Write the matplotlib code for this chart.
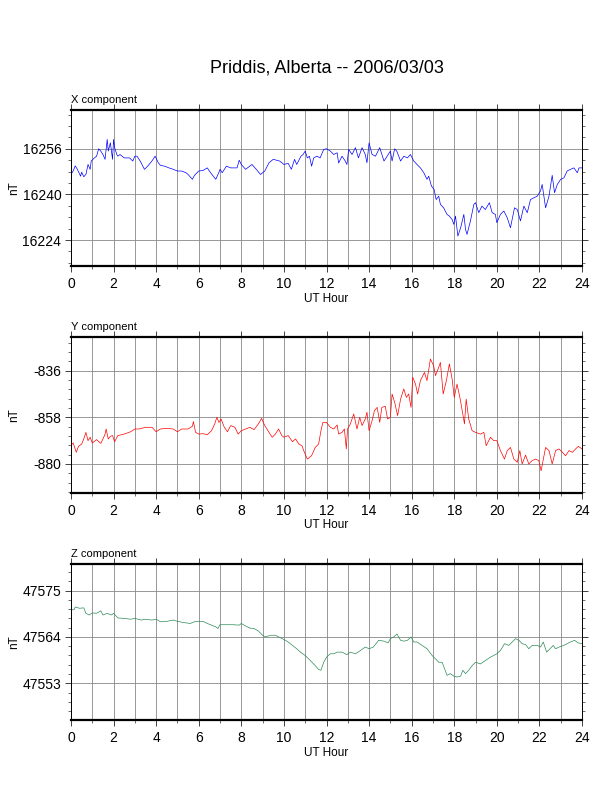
import numpy as np
import matplotlib
matplotlib.use("Agg")
import matplotlib.pyplot as plt
from matplotlib.ticker import MultipleLocator

plt.rcParams['font.family'] = ['Liberation Sans', 'DejaVu Sans']

# X component (nT)
x_hours = [0.0, 0.1, 0.2, 0.3, 0.45, 0.5, 0.6, 0.7, 0.8, 0.9, 0.95, 1.1, 1.2, 1.3, 1.4, 1.5,
           1.6, 1.7, 1.75, 1.85, 1.95, 2.0, 2.05, 2.15, 2.2, 2.3, 2.5, 2.75, 2.9, 3.0, 3.1,
           3.25, 3.45, 3.6, 3.8, 3.95, 4.1, 4.2, 4.4, 4.6, 4.8, 5.0, 5.2, 5.4, 5.5, 5.7, 5.8,
           6.0, 6.2, 6.4, 6.5, 6.65, 6.8, 6.95, 7.0, 7.1, 7.3, 7.5, 7.8, 7.9, 8.0, 8.2, 8.5,
           8.7, 8.9, 9.1, 9.3, 9.5, 9.8, 10.0, 10.2, 10.35, 10.5, 10.6, 10.8, 10.9, 11.0,
           11.1, 11.2, 11.3, 11.4, 11.55, 11.7, 11.87, 12.0, 12.18, 12.34, 12.5, 12.57,
           12.73, 12.88, 12.96, 13.04, 13.2, 13.36, 13.5, 13.67, 13.82, 13.9, 14.0, 14.14,
           14.3, 14.5, 14.7, 14.85, 15.0, 15.08, 15.2, 15.3, 15.48, 15.63, 15.8, 15.94,
           16.1, 16.25, 16.41, 16.57, 16.72, 16.8, 16.93, 17.05, 17.15, 17.27, 17.35, 17.5,
           17.66, 17.77, 17.9, 17.98, 18.06, 18.17, 18.3, 18.45, 18.53, 18.6, 18.76, 18.92,
           19.0, 19.15, 19.3, 19.46, 19.65, 19.78, 19.93, 20.0, 20.17, 20.33, 20.49, 20.64,
           20.83, 20.96, 21.11, 21.27, 21.43, 21.58, 21.74, 21.9, 22.05, 22.13, 22.29,
           22.45, 22.6, 22.71, 22.84, 23.0, 23.15, 23.3, 23.46, 23.62, 23.78, 23.86, 24.0]
x_vals = [16247.0, 16248.2, 16250.0, 16248.8, 16246.4, 16247.8, 16246.2, 16247.0, 16250.5,
          16248.8, 16251.7, 16252.8, 16253.4, 16256.0, 16255.2, 16254.0, 16252.3, 16259.3,
          16255.2, 16258.1, 16252.3, 16259.3, 16256.4, 16254.0, 16253.4, 16254.0, 16252.8,
          16252.8, 16251.7, 16253.4, 16253.4, 16251.7, 16248.8, 16249.9, 16251.7, 16253.4,
          16251.1, 16250.2, 16249.9, 16249.3, 16248.8, 16248.2, 16248.2, 16247.6, 16247.0,
          16245.3, 16246.7, 16248.2, 16248.4, 16249.3, 16248.2, 16246.7, 16245.3, 16247.8,
          16248.8, 16247.6, 16249.9, 16249.3, 16249.3, 16252.0, 16250.5, 16248.8, 16250.5,
          16248.8, 16247.0, 16248.2, 16251.1, 16252.3, 16251.7, 16250.5, 16250.9, 16248.8,
          16252.3, 16250.5, 16253.4, 16254.0, 16255.2, 16252.8, 16253.4, 16249.9, 16252.8,
          16253.4, 16252.8, 16255.8, 16256.0, 16255.2, 16254.0, 16254.6, 16251.0, 16253.4,
          16251.7, 16250.5, 16255.8, 16254.0, 16256.4, 16252.8, 16256.4, 16254.0, 16251.1,
          16258.1, 16254.0, 16253.4, 16256.4, 16251.7, 16253.4, 16255.2, 16251.7, 16256.0,
          16255.2, 16251.7, 16253.4, 16252.8, 16254.0, 16251.7, 16250.5, 16249.3, 16247.6,
          16245.3, 16246.4, 16242.9, 16241.8, 16238.2, 16239.4, 16236.5, 16235.3, 16233.0,
          16232.4, 16231.2, 16229.5, 16232.4, 16225.4, 16228.3, 16233.0, 16227.7, 16226.0,
          16230.7, 16236.5, 16237.1, 16233.6, 16235.9, 16234.7, 16237.1, 16233.6, 16233.0,
          16230.1, 16233.0, 16234.2, 16231.8, 16228.3, 16235.3, 16234.7, 16230.7, 16235.9,
          16233.6, 16238.2, 16238.8, 16239.4, 16241.2, 16243.5, 16235.3, 16239.4, 16246.7,
          16240.6, 16243.5, 16245.3, 16245.8, 16248.2, 16248.8, 16249.3, 16247.6, 16249.3,
          16249.3]

# Y component (nT)
y_hours = [0.0, 0.1, 0.25, 0.35, 0.5, 0.6, 0.7, 0.8, 0.9, 1.0, 1.2, 1.4, 1.5, 1.6, 1.65,
           1.75, 1.85, 1.95, 2.05, 2.2, 2.5, 2.8, 3.0, 3.2, 3.5, 3.8, 4.0, 4.2, 4.5, 4.8,
           5.0, 5.2, 5.5, 5.7, 5.75, 5.85, 6.0, 6.2, 6.4, 6.6, 6.75, 6.85, 6.95, 7.05, 7.2,
           7.35, 7.5, 7.7, 7.85, 8.0, 8.2, 8.4, 8.6, 8.8, 8.95, 9.1, 9.3, 9.45, 9.6, 9.75,
           9.9, 10.0, 10.2, 10.4, 10.55, 10.7, 10.85, 10.93, 11.0, 11.1, 11.3, 11.47, 11.63,
           11.74, 11.83, 12.0, 12.18, 12.34, 12.5, 12.57, 12.73, 12.84, 12.93, 12.99, 13.12,
           13.28, 13.43, 13.56, 13.67, 13.82, 13.9, 14.0, 14.14, 14.25, 14.38, 14.5, 14.6,
           14.76, 14.87, 15.0, 15.08, 15.2, 15.34, 15.48, 15.63, 15.75, 15.86, 15.97, 16.05,
           16.18, 16.28, 16.41, 16.6, 16.72, 16.88, 17.03, 17.12, 17.27, 17.35, 17.48, 17.63,
           17.77, 17.9, 18.0, 18.13, 18.28, 18.4, 18.48, 18.56, 18.68, 18.84, 19.0, 19.23,
           19.39, 19.5, 19.7, 19.86, 20.0, 20.17, 20.36, 20.49, 20.64, 20.8, 20.96, 21.08,
           21.19, 21.35, 21.5, 21.66, 21.82, 21.97, 22.08, 22.29, 22.45, 22.6, 22.76, 22.92,
           23.08, 23.23, 23.39, 23.55, 23.7, 23.83, 24.0]
y_vals = [-871.1, -870.1, -874.5, -871.7, -870.6, -868.2, -865.1, -869.0, -867.4, -870.1,
          -868.5, -870.3, -868.2, -865.9, -863.5, -868.2, -867.0, -866.6, -869.5, -866.6,
          -865.9, -864.8, -863.5, -863.5, -862.7, -862.7, -864.8, -863.5, -863.2, -863.5,
          -864.8, -863.5, -863.5, -862.2, -860.0, -865.1, -865.9, -865.7, -866.2, -864.3,
          -861.1, -858.0, -860.4, -858.8, -862.7, -864.8, -861.9, -862.7, -865.9, -864.3,
          -863.5, -862.7, -863.8, -861.1, -858.5, -861.9, -865.1, -867.4, -865.9, -863.5,
          -866.6, -867.4, -866.6, -869.5, -868.2, -870.6, -871.4, -873.7, -875.3, -877.7,
          -876.1, -872.2, -870.6, -864.3, -860.4, -860.4, -862.7, -863.5, -861.6, -865.9,
          -865.1, -863.5, -872.9, -863.5, -861.1, -856.4, -863.5, -858.0, -861.9, -858.8,
          -855.6, -864.3, -859.6, -854.9, -853.3, -860.4, -853.3, -852.8, -858.8, -858.0,
          -847.0, -850.9, -857.2, -849.4, -844.6, -848.6, -847.0, -853.3, -839.1, -842.3,
          -847.0, -840.7, -836.8, -840.7, -830.5, -833.6, -838.3, -834.4, -832.1, -847.0,
          -840.7, -832.8, -839.9, -848.6, -842.3, -849.4, -856.4, -861.1, -849.4, -858.8,
          -864.3, -865.1, -865.9, -865.1, -871.4, -867.4, -869.0, -869.0, -873.7, -877.7,
          -873.7, -872.2, -877.7, -879.2, -873.7, -880.0, -875.8, -880.0, -878.4, -877.7,
          -878.4, -883.2, -872.2, -873.7, -880.0, -873.7, -872.9, -874.5, -876.1, -873.7,
          -874.5, -872.9, -871.7, -872.9]

# Z component (nT)
z_hours = [0.0, 0.15, 0.2, 0.4, 0.6, 0.7, 0.85, 1.0, 1.2, 1.4, 1.5, 1.7, 1.9, 2.0, 2.2,
           2.5, 2.8, 3.0, 3.3, 3.5, 3.8, 4.0, 4.2, 4.5, 4.8, 5.0, 5.3, 5.6, 5.8, 6.0, 6.2,
           6.4, 6.6, 6.8, 6.9, 7.0, 7.3, 7.6, 7.9, 8.0, 8.2, 8.4, 8.6, 8.8, 9.0, 9.1, 9.4,
           9.6, 9.8, 10.0, 10.2, 10.4, 10.6, 10.8, 11.0, 11.24, 11.47, 11.63, 11.74, 11.87,
           12.0, 12.18, 12.34, 12.5, 12.73, 12.96, 13.12, 13.36, 13.6, 13.82, 14.0, 14.2,
           14.45, 14.7, 14.9, 15.0, 15.16, 15.31, 15.48, 15.63, 15.8, 15.97, 16.1, 16.25,
           16.49, 16.72, 16.96, 17.12, 17.27, 17.43, 17.54, 17.66, 17.82, 17.98, 18.13,
           18.3, 18.4, 18.53, 18.68, 18.84, 19.0, 19.23, 19.46, 19.7, 20.0, 20.17, 20.36,
           20.56, 20.72, 20.88, 21.04, 21.19, 21.35, 21.5, 21.66, 21.9, 22.05, 22.18, 22.34,
           22.5, 22.65, 22.76, 22.92, 23.15, 23.3, 23.46, 23.65, 23.81, 24.0]
z_vals = [47570.4, 47570.5, 47571.1, 47570.8, 47570.9, 47569.6, 47569.2, 47569.7, 47569.6,
          47570.2, 47569.2, 47569.6, 47569.2, 47569.6, 47568.5, 47568.4, 47568.2, 47568.4,
          47568.0, 47568.2, 47568.0, 47568.2, 47567.6, 47567.7, 47568.0, 47567.7, 47567.4,
          47567.2, 47567.6, 47567.7, 47567.7, 47567.2, 47566.8, 47566.4, 47566.0, 47566.9,
          47566.9, 47566.9, 47566.8, 47567.2, 47566.6, 47566.1, 47566.0, 47565.4, 47564.4,
          47564.0, 47564.4, 47564.4, 47563.9, 47563.4, 47562.8, 47562.0, 47561.2, 47560.3,
          47559.6, 47558.4, 47557.2, 47556.3, 47556.1, 47558.0, 47559.2, 47560.0, 47560.0,
          47560.4, 47560.4, 47559.8, 47560.4, 47560.0, 47560.8, 47561.6, 47561.2, 47561.6,
          47563.2, 47563.0, 47562.6, 47563.6, 47564.0, 47564.7, 47563.2, 47563.0, 47563.2,
          47564.0, 47562.8, 47562.8, 47562.0, 47561.2, 47559.6, 47558.8, 47558.0, 47558.0,
          47556.5, 47554.9, 47555.3, 47554.7, 47554.5, 47554.7, 47556.1, 47555.3, 47556.1,
          47557.2, 47558.0, 47557.6, 47558.4, 47559.2, 47560.0, 47560.8, 47562.4, 47562.0,
          47562.8, 47563.6, 47563.2, 47562.4, 47562.2, 47561.2, 47562.0, 47562.0, 47561.6,
          47562.8, 47560.4, 47561.2, 47562.0, 47561.2, 47561.6, 47562.0, 47562.4, 47562.8,
          47563.2, 47562.6, 47562.4]

panels = [
    ("X component", x_hours, x_vals, "#0000ff", [16224, 16240, 16256], 4.0, (16214.9, 16269.6)),
    ("Y component", y_hours, y_vals, "#ff0000", [-880, -858, -836], 4.4, (-893.7, -820.1)),
    ("Z component", z_hours, z_vals, "#2e8b57", [47553, 47564, 47575], 2.2, (47544.3, 47581.3)),
]

W, H = 612, 792
fig = plt.figure(figsize=(W / 100, H / 100), dpi=100)
fig.text(327 / W, 1 - 68 / H, "Priddis, Alberta -- 2006/03/03", ha="center", va="center",
         fontsize=13)

tops = [110, 337, 564]
for (name, hrs, vals, col, yt, ymin, ylim), top in zip(panels, tops):
    ax = fig.add_axes([71 / W, 1 - (top + 156) / H, 511 / W, 156 / H])
    ax.plot(hrs, vals, color=col, lw=0.5)
    ax.set_xlim(0, 24)
    ax.set_ylim(*ylim)
    ax.set_xticks(range(0, 25, 2))
    ax.xaxis.set_minor_locator(MultipleLocator(1))
    ax.set_yticks(yt)
    ax.set_yticklabels([str(v) for v in yt])
    ax.yaxis.set_minor_locator(MultipleLocator(ymin))
    ax.grid(True, which="major", axis="y", color="#888888", lw=0.6)
    ax.grid(True, which="both", axis="x", color="#888888", lw=0.6)
    ax.set_axisbelow(True)
    ax.tick_params(axis="both", which="major", direction="out", length=4, width=0.6,
                   labelsize=10, pad=3, top=True, right=True, colors="#222222",
                   labelcolor="black")
    ax.tick_params(axis="both", which="minor", direction="out", length=2.5, width=0.6,
                   top=False, right=True, colors="#555555")
    ax.tick_params(axis="x", which="major", pad=4)
    for s in ("top", "bottom"):
        ax.spines[s].set_linewidth(1.6)
    for s in ("left", "right"):
        ax.spines[s].set_linewidth(0.7)
    ax.text(0, 1.035, name, transform=ax.transAxes, fontsize=8, ha="left", va="bottom")
    ax.set_xlabel("UT Hour", fontsize=8.5, labelpad=1)
    fig.text(14 / W, 1 - (top + 78) / H, "nT", rotation=90, ha="center", va="center",
             fontsize=8.5)

fig.savefig("out.png", dpi=100)
